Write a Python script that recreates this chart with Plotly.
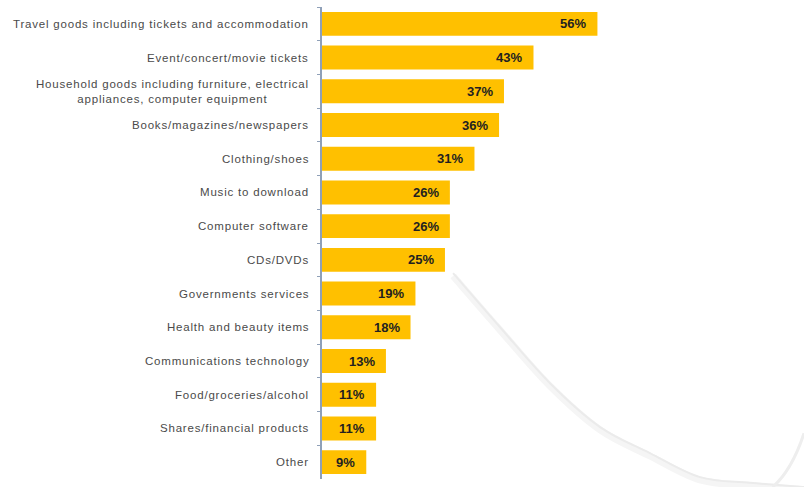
import plotly.graph_objects as go

categories = [
    "Travel goods including tickets and accommodation",
    "Event/concert/movie tickets",
    "Household goods including furniture, electrical<br>appliances, computer equipment",
    "Books/magazines/newspapers",
    "Clothing/shoes",
    "Music to download",
    "Computer software",
    "CDs/DVDs",
    "Governments services",
    "Health and beauty items",
    "Communications technology",
    "Food/groceries/alcohol",
    "Shares/financial products",
    "Other",
]
values = [56, 43, 37, 36, 31, 26, 26, 25, 19, 18, 13, 11, 11, 9]

W, H = 804, 487
L, T, B = 322, 7, 8

fig = go.Figure()
fig.add_trace(go.Bar(
    y=categories, x=values, orientation="h",
    marker=dict(color="#FFC000", line=dict(width=0)),
    width=0.71, hoverinfo="skip",
))

annotations = []
for c, v in zip(categories, values):
    annotations.append(dict(
        x=v, y=c, xref="x", yref="y", text=f"<b>{v}%</b>",
        xanchor="right", yanchor="middle", xshift=-9, showarrow=False,
        font=dict(family="Liberation Sans, Arial", size=13, color="#231f20"),
    ))
    label = "<br>".join(
        f'<span style="letter-spacing:0.8px">{part}</span>' for part in c.split("<br>")
    )
    annotations.append(dict(
        x=0, y=c, xref="paper", yref="y", text=label, align="center",
        xanchor="right", yanchor="middle", xshift=-11, showarrow=False,
        font=dict(family="Liberation Sans, Arial", size=11.5, color="#4a4a4a"),
    ))


# decorative background swoosh (paper coordinates)
def smooth_path(pts):
    d = f"M {pts[0][0]:.4f},{pts[0][1]:.4f}"
    for i in range(len(pts) - 1):
        p0 = pts[i - 1] if i > 0 else pts[i]
        p1, p2 = pts[i], pts[i + 1]
        p3 = pts[i + 2] if i + 2 < len(pts) else pts[i + 1]
        c1 = (p1[0] + (p2[0] - p0[0]) / 6, p1[1] + (p2[1] - p0[1]) / 6)
        c2 = (p2[0] - (p3[0] - p1[0]) / 6, p2[1] - (p3[1] - p1[1]) / 6)
        d += f" C {c1[0]:.4f},{c1[1]:.4f} {c2[0]:.4f},{c2[1]:.4f} {p2[0]:.4f},{p2[1]:.4f}"
    return d


swoosh = [(0.272, 0.436), (0.369, 0.322), (0.473, 0.203), (0.577, 0.110),
          (0.680, 0.055), (0.784, 0.004), (0.888, -0.008), (1.0, -0.017)]
swoosh_low = [(x, y - 0.006) for x, y in swoosh]

shapes = [
    dict(type="path", xref="paper", yref="paper", layer="below",
         path=smooth_path(swoosh_low), line=dict(color="#f5f5f5", width=7)),
    dict(type="path", xref="paper", yref="paper", layer="below",
         path=smooth_path(swoosh), line=dict(color="#ebebeb", width=2)),
    dict(type="path", xref="paper", yref="paper", layer="below",
         path="M 1.0,0.097 C 0.985,0.05 0.965,0.01 0.935,-0.017",
         line=dict(color="#eeeeee", width=3)),
]

fig.update_layout(
    width=W, height=H,
    margin=dict(l=L, r=0, t=T, b=B, pad=0),
    paper_bgcolor="white", plot_bgcolor="rgba(0,0,0,0)",
    showlegend=False,
    bargap=0.29,
    xaxis=dict(range=[0, 98], visible=False, fixedrange=True),
    yaxis=dict(
        categoryorder="array", categoryarray=categories, autorange="reversed",
        showticklabels=False, showline=True, linecolor="#8fa0b8", linewidth=1.5,
        ticks="outside", tickson="boundaries", ticklen=3, tickcolor="#8fa0b8",
        showgrid=False, zeroline=False, fixedrange=True,
    ),
    annotations=annotations,
    shapes=shapes,
)

fig.write_html("out.html")
